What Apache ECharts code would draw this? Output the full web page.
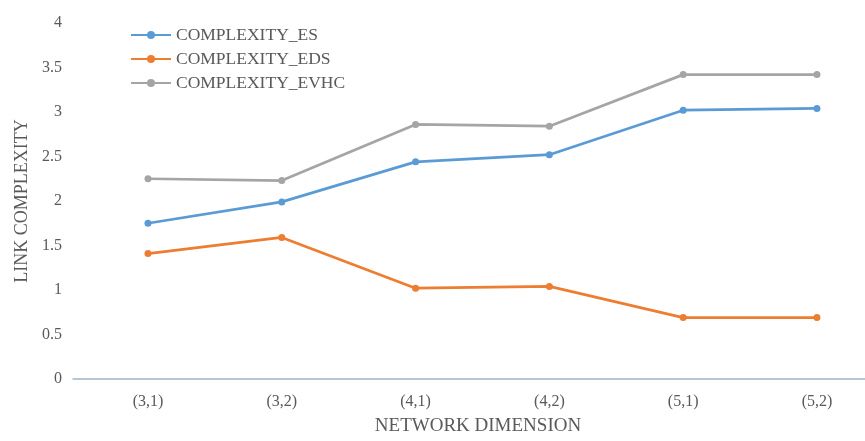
<!DOCTYPE html>
<html><head><meta charset="utf-8">
<script src="https://cdn.jsdelivr.net/npm/echarts@6/dist/echarts.min.js"></script>
<style>html,body{margin:0;padding:0;background:#fff}#c{width:865px;height:441px}</style>
</head><body><div id="c"></div>
<script>
const categories = ['(3,1)', '(3,2)', '(4,1)', '(4,2)', '(5,1)', '(5,2)'];
const es = [1.75, 1.99, 2.44, 2.52, 3.02, 3.04];
const eds = [1.41, 1.59, 1.02, 1.04, 0.69, 0.69];
const evhc = [2.25, 2.23, 2.86, 2.84, 3.42, 3.42];
const seriesNames = ['COMPLEXITY_ES', 'COMPLEXITY_EDS', 'COMPLEXITY_EVHC'];
const colors = ['#5B9BD5', '#ED7D31', '#A5A5A5'];
const font = 'Liberation Serif';
const catIdx = categories.map((c, i) => i);
const chart = echarts.init(document.getElementById('c'));
function mk(name, data, color) {
  return {name, type: 'line', data: data.map((v, i) => [catIdx[i], v]), symbol: 'circle', symbolSize: 7,
    lineStyle: {width: 2.75, color}, itemStyle: {color}};
}
chart.setOption({
  animation: false,
  color: colors,
  textStyle: {fontFamily: font},
  legend: {
    orient: 'vertical', left: 125, top: 21, itemGap: 6, itemWidth: 40, itemHeight: 10,
    textStyle: {fontFamily: font, fontSize: 17.5, color: '#595959', lineHeight: 17},
    data: seriesNames
  },
  grid: {left: 73, top: 23, right: 0, height: 361.5, containLabel: false},
  xAxis: {
    type: 'value', min: -0.5605, max: 5.359,
    splitLine: {show: false},
    axisLine: {lineStyle: {color: '#9DB4C8', width: 1.5}},
    axisTick: {show: false},
    axisLabel: {customValues: catIdx, formatter: v => categories[Math.round(v)],
      fontFamily: font, fontSize: 16, color: '#595959', margin: 15, showMinLabel: true, showMaxLabel: true},
    name: 'NETWORK DIMENSION', nameLocation: 'middle', nameGap: 38,
    nameTextStyle: {fontFamily: font, fontSize: 19, color: '#595959', padding: [0, 0, 0, 18]}
  },
  yAxis: {
    type: 'value', min: 0, max: 4, interval: 0.5,
    splitLine: {show: false}, axisLine: {show: false}, axisTick: {show: false},
    axisLabel: {fontFamily: font, fontSize: 16, color: '#595959', margin: 11},
    name: 'LINK COMPLEXITY', nameLocation: 'middle', nameGap: 34, nameRotate: 90,
    nameTextStyle: {fontFamily: font, fontSize: 18, color: '#595959'}
  },
  series: [mk(seriesNames[0], es, colors[0]), mk(seriesNames[1], eds, colors[1]), mk(seriesNames[2], evhc, colors[2])]
});
</script></body></html>
